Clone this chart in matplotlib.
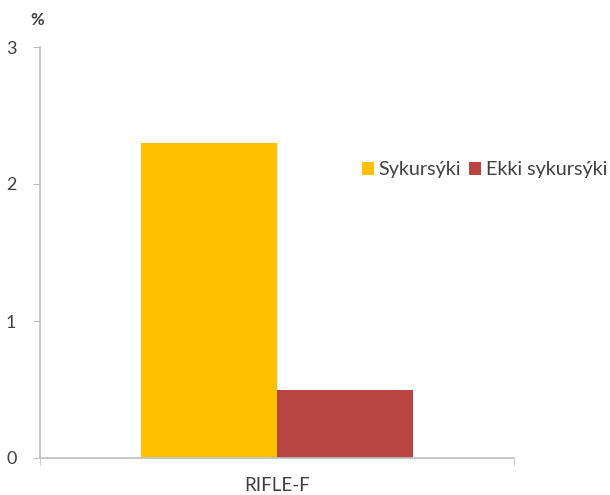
import matplotlib
matplotlib.use("Agg")
import matplotlib.pyplot as plt
import numpy as np

categories = ["RIFLE-F"]
series_names = ["Sykursýki", "Ekki sykursýki"]
values_diab = [2.3]
values_nondiab = [0.5]
colors = ["#FFC000", "#B94442"]
yticks = [0, 1, 2, 3]

plt.rcParams['font.family'] = ['Lato', 'DejaVu Sans']

fig = plt.figure(figsize=(6.1, 4.95), dpi=100)
ax = fig.add_axes([40/610, 1-458/495, 474/610, 411/495])

x = np.arange(len(categories))
w = 0.287
ax.bar(x - w/2, values_diab, width=w, color=colors[0], label=series_names[0])
ax.bar(x + w/2, values_nondiab, width=w, color=colors[1], label=series_names[1])

ax.set_xlim(-0.5, 0.5)
ax.set_ylim(0, 3)
ax.set_yticks(yticks)
ax.set_yticklabels([str(t) for t in yticks])
ax.set_xticks([-0.5, 0.5], minor=True)
ax.set_xticks(x)
ax.set_xticklabels(categories)
ax.tick_params(axis='x', which='major', length=0, pad=14, labelsize=13.5, labelcolor='#404040')
ax.tick_params(axis='x', which='minor', length=5, color='#BFBFBF', direction='out')
ax.tick_params(axis='y', length=5, color='#BFBFBF', labelsize=13, labelcolor='#404040', pad=12)
for s in ['top', 'right']:
    ax.spines[s].set_visible(False)
for s in ['left', 'bottom']:
    ax.spines[s].set_color('#BFBFBF')
    ax.spines[s].set_linewidth(1.2)

fig.text(37/610, 1-20/495, "%", fontsize=12, color='#404040', fontweight='bold', va='center', ha='center')

fig.legend(loc='center left', bbox_to_anchor=(362/610, 1-170/495), ncol=2, frameon=False,
           handlelength=0.6, handleheight=0.6, handletextpad=0.25, columnspacing=0.4,
           fontsize=14.2, labelcolor='#404040', borderaxespad=0, borderpad=0)

fig.savefig("out.png", dpi=100)
